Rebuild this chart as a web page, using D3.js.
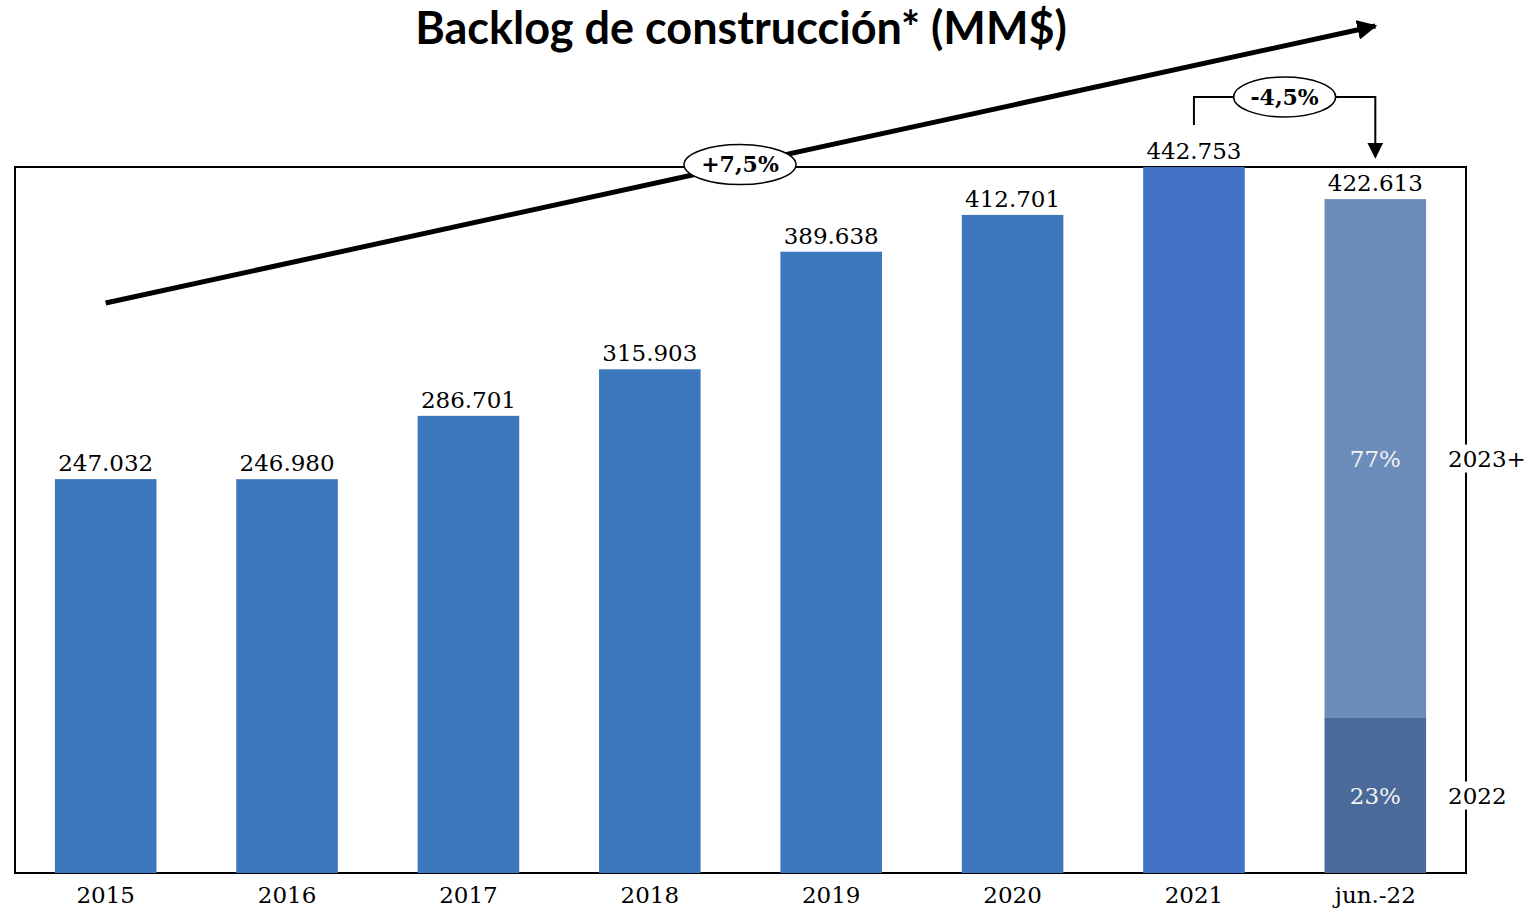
<!DOCTYPE html>
<html>
<head>
<meta charset="utf-8">
<script src="https://cdn.jsdelivr.net/npm/d3@7"></script>
<style>
  body { margin: 0; background: #fff; }
</style>
</head>
<body>
<div id="chart"></div>
<script>
// data
let categories = ['2015', '2016', '2017', '2018', '2019', '2020', '2021', 'jun.-22']
let backlog = [247032, 246980, 286701, 315903, 389638, 412701, 442753, 422613]
let splitLabels = ['2022', '2023+']
let splitShares = [0.23, 0.77]
let trendLabel = '+7,5%'
let changeLabel = '-4,5%'

let W = 1530
let H = 913
let margin = { top: 167, left: 15, right: 64, bottom: 40 }
let width = W - margin.left - margin.right
let height = H - margin.top - margin.bottom

let serif = '"DejaVu Serif", "Liberation Serif", serif'

let svg = d3.select('#chart')
  .append('svg')
  .attr('width', W)
  .attr('height', H)

let g = svg.append('g')
  .attr('transform', `translate(${margin.left},${margin.top})`)

let xPositionScale = d3.scaleBand()
  .domain(categories)
  .range([0, width])
  .paddingInner(0.44)
  .paddingOuter(0.22)

let yPositionScale = d3.scaleLinear()
  .domain([0, d3.max(backlog)])
  .range([height, 0])

let numFormat = d => d3.format(',')(d).replace(/,/g, '.')

// title
svg.append('text')
  .attr('x', 741)
  .attr('y', 44)
  .attr('text-anchor', 'middle')
  .attr('font-family', 'Lato, "Open Sans", sans-serif')
  .attr('font-weight', 'bold')
  .attr('font-size', 45)
  .attr('fill', '#000')
  .text('Backlog de construcción* (MM$)')

// box
g.append('rect')
  .attr('x', 0)
  .attr('y', 0)
  .attr('width', width)
  .attr('height', height)
  .attr('fill', 'none')
  .attr('stroke', '#000')
  .attr('stroke-width', 2)

// simple bars
let simple = categories.slice(0, 7).map((c, i) => ({ cat: c, value: backlog[i] }))

g.selectAll('.bar')
  .data(simple)
  .enter()
  .append('rect')
  .attr('class', 'bar')
  .attr('x', d => xPositionScale(d.cat))
  .attr('y', d => yPositionScale(d.value))
  .attr('width', xPositionScale.bandwidth())
  .attr('height', d => height - yPositionScale(d.value))
  .attr('fill', d => d.cat === '2021' ? '#4472C4' : '#3D78BD')

// stacked bar for jun.-22
let lastCat = categories[7]
let lastTotal = backlog[7]
let stackData = []
let acc = 0
splitShares.forEach((s, i) => {
  stackData.push({ label: splitLabels[i], share: s, y0: acc, y1: acc + s * lastTotal })
  acc += s * lastTotal
})
let stackColors = ['#4A6A9A', '#6C8CB9']

g.selectAll('.stack')
  .data(stackData)
  .enter()
  .append('rect')
  .attr('class', 'stack')
  .attr('x', xPositionScale(lastCat))
  .attr('y', d => yPositionScale(d.y1))
  .attr('width', xPositionScale.bandwidth())
  .attr('height', d => yPositionScale(d.y0) - yPositionScale(d.y1))
  .attr('fill', (d, i) => stackColors[i])

g.selectAll('.stack-pct')
  .data(stackData)
  .enter()
  .append('text')
  .attr('x', xPositionScale(lastCat) + xPositionScale.bandwidth() / 2)
  .attr('y', d => (yPositionScale(d.y0) + yPositionScale(d.y1)) / 2)
  .attr('dy', '0.35em')
  .attr('text-anchor', 'middle')
  .attr('font-family', serif)
  .attr('font-size', 23)
  .attr('fill', '#F2F2F2')
  .text(d => Math.round(d.share * 100) + '%')

// side labels on the right border, white behind them
let side = g.selectAll('.side')
  .data(stackData)
  .enter()
  .append('g')
  .attr('transform', d => `translate(${width - 18},${(yPositionScale(d.y0) + yPositionScale(d.y1)) / 2})`)

side.append('rect')
  .attr('x', 0)
  .attr('y', -14)
  .attr('width', 82)
  .attr('height', 28)
  .attr('fill', '#fff')

side.append('text')
  .attr('x', 0)
  .attr('dy', '0.35em')
  .attr('font-family', serif)
  .attr('font-size', 23)
  .attr('fill', '#000')
  .text(d => d.label)

// value labels
let all = categories.map((c, i) => ({ cat: c, value: backlog[i] }))

let vl = g.selectAll('.value')
  .data(all)
  .enter()
  .append('g')
  .attr('transform', d => `translate(${xPositionScale(d.cat) + xPositionScale.bandwidth() / 2},${yPositionScale(d.value) - 8})`)

vl.filter(d => d.cat === lastCat)
  .append('rect')
  .attr('x', -57)
  .attr('y', -22)
  .attr('width', 114)
  .attr('height', 26)
  .attr('fill', '#fff')

vl.append('text')
  .attr('text-anchor', 'middle')
  .attr('font-family', serif)
  .attr('font-size', 23)
  .attr('fill', '#000')
  .text(d => numFormat(d.value))

// x axis labels
let xAxis = d3.axisBottom(xPositionScale).tickSize(0).tickPadding(14)
g.append('g')
  .attr('class', 'x-axis')
  .attr('transform', `translate(0,${height})`)
  .call(xAxis)
g.select('.x-axis .domain').remove()
g.selectAll('.x-axis text')
  .attr('font-family', serif)
  .attr('font-size', 23)
  .attr('fill', '#000')

// arrow markers
svg.append('defs').append('marker')
  .attr('id', 'head')
  .attr('viewBox', '0 0 10 10')
  .attr('refX', 9)
  .attr('refY', 5)
  .attr('markerWidth', 4)
  .attr('markerHeight', 4)
  .attr('markerUnits', 'strokeWidth')
  .attr('orient', 'auto')
  .append('path')
  .attr('d', 'M0,0 L10,5 L0,10 Z')
  .attr('fill', '#000')

svg.select('defs').append('marker')
  .attr('id', 'head2')
  .attr('viewBox', '0 0 10 10')
  .attr('refX', 9)
  .attr('refY', 5)
  .attr('markerWidth', 8)
  .attr('markerHeight', 8)
  .attr('markerUnits', 'strokeWidth')
  .attr('orient', 'auto')
  .append('path')
  .attr('d', 'M0,0 L10,5 L0,10 Z')
  .attr('fill', '#000')

// trend arrow (CAGR)
let cx = c => margin.left + xPositionScale(c) + xPositionScale.bandwidth() / 2
let x0 = cx(categories[0])
let x1 = cx(lastCat)
let tY0 = 303
let tY1 = 26
svg.append('line')
  .attr('x1', x0)
  .attr('y1', tY0)
  .attr('x2', x1)
  .attr('y2', tY1)
  .attr('stroke', '#000')
  .attr('stroke-width', 5)
  .attr('marker-end', 'url(#head)')

let ex = 740
let ey = tY0 + (tY1 - tY0) * (ex - x0) / (x1 - x0)
svg.append('ellipse')
  .attr('cx', ex)
  .attr('cy', ey)
  .attr('rx', 56)
  .attr('ry', 20)
  .attr('fill', '#fff')
  .attr('stroke', '#000')
  .attr('stroke-width', 1.5)
svg.append('text')
  .attr('x', ex)
  .attr('y', ey)
  .attr('dy', '0.35em')
  .attr('text-anchor', 'middle')
  .attr('font-family', serif)
  .attr('font-weight', 'bold')
  .attr('font-size', 22)
  .text(trendLabel)

// bracket 2021 -> jun.-22
let b0 = cx('2021')
let b1 = cx(lastCat)
let bTop = 97
svg.append('path')
  .attr('d', `M${b0},${margin.top + yPositionScale(backlog[6]) - 42} V${bTop} H${b1} V${margin.top + yPositionScale(backlog[7]) - 42}`)
  .attr('fill', 'none')
  .attr('stroke', '#000')
  .attr('stroke-width', 2)
  .attr('marker-end', 'url(#head2)')

let bx = (b0 + b1) / 2
svg.append('ellipse')
  .attr('cx', bx)
  .attr('cy', bTop)
  .attr('rx', 51)
  .attr('ry', 20)
  .attr('fill', '#fff')
  .attr('stroke', '#000')
  .attr('stroke-width', 1.5)
svg.append('text')
  .attr('x', bx)
  .attr('y', bTop)
  .attr('dy', '0.35em')
  .attr('text-anchor', 'middle')
  .attr('font-family', serif)
  .attr('font-weight', 'bold')
  .attr('font-size', 22)
  .text(changeLabel)
</script>
</body>
</html>
